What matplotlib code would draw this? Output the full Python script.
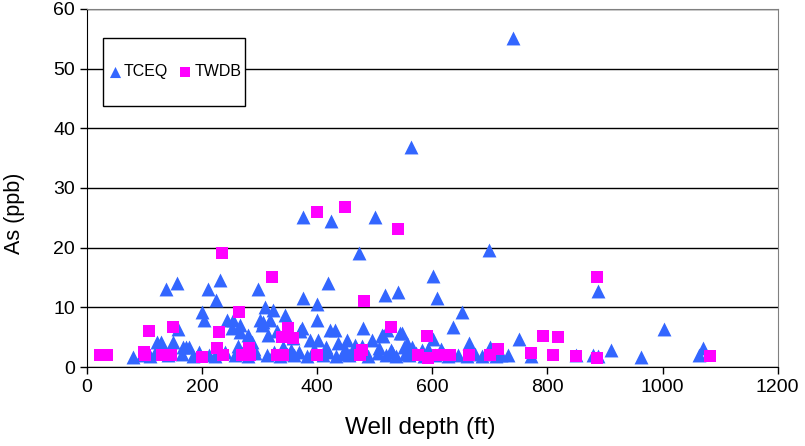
import matplotlib.pyplot as plt
from matplotlib.patches import Rectangle

# TCEQ wells: depth (ft) and arsenic (ppb)
tceq_depth = [741, 563, 375, 424, 501, 472, 699, 602, 419, 231, 156, 137, 210, 298,
              541, 517, 376, 609, 224, 400, 310, 323, 200, 652, 344, 888, 204, 400,
              301, 243, 318, 306, 254, 266, 304, 636, 158, 370, 374, 423, 431, 480,
              522, 1002, 252, 266, 330, 280, 315, 512, 515, 548, 544, 602, 750, 358,
              664, 122, 128, 150, 287, 388, 402, 452, 495, 437, 556, 466, 550, 701,
              167, 172, 177, 1071, 911, 593,
              963, 1063, 888, 880, 849, 772, 731, 695, 687, 80,
              95, 110, 118, 140, 165, 185, 195, 212, 222, 240, 258, 270, 280, 292,
              312, 325, 335, 348, 360, 368, 382, 392, 410, 418, 432, 445, 455, 462,
              488, 505, 520, 530, 537, 552, 560, 572, 585, 605, 618, 628, 645, 660,
              675, 710, 720,
              262, 290, 340, 355, 395, 415, 448, 478, 508, 528, 565, 582, 615]
tceq_as = [55.1, 36.9, 25.1, 24.5, 25.1, 19.1, 19.6, 15.2, 14.1, 14.6, 14.1, 13.1, 13.0, 13.1,
           12.6, 12.0, 11.6, 11.5, 11.3, 10.6, 10.1, 9.5, 9.2, 9.3, 8.7, 12.7, 7.9, 7.9,
           7.9, 7.9, 7.9, 7.5, 7.9, 7.0, 7.0, 6.7, 6.4, 6.0, 6.5, 6.2, 6.2, 6.5,
           6.2, 6.4, 6.5, 5.9, 6.0, 5.4, 5.4, 5.4, 5.2, 5.7, 5.7, 4.7, 4.7, 4.9,
           4.0, 4.2, 4.2, 4.2, 4.2, 4.5, 4.5, 4.5, 4.5, 4.0, 4.0, 3.7, 3.4, 3.4,
           3.3, 3.3, 3.3, 3.2, 2.8, 3.0,
           1.7, 2.0, 1.8, 2.0, 2.0, 1.8, 2.0, 2.2, 1.8, 1.7,
           2.0, 1.8, 2.4, 2.0, 2.2, 1.9, 2.5, 2.0, 1.8, 2.6, 2.0, 2.3, 1.9, 2.4,
           2.0, 2.6, 1.8, 2.2, 2.0, 2.5, 1.9, 2.3, 2.0, 2.6, 1.8, 2.2, 2.0, 2.4,
           1.9, 2.3, 2.0, 2.5, 1.8, 2.2, 2.0, 2.4, 1.9, 2.1, 2.3, 1.8, 2.0, 1.9,
           2.2, 1.8, 2.0,
           3.5, 3.0, 3.3, 2.9, 3.1, 3.4, 3.0, 3.6, 3.2, 2.9, 3.3, 2.8, 3.1]

# TWDB wells
twdb_depth = [23, 35, 99, 101, 108, 130, 146, 150, 200, 226, 230, 235, 237, 264, 270,
              282, 283, 322, 330, 339, 341, 350, 358, 400, 400, 449, 475, 478, 482,
              529, 541, 576, 591, 593, 610, 631, 663, 701, 715, 772, 793, 810, 819,
              850, 887, 887, 1082]
twdb_as = [2.0, 2.0, 2.6, 2.0, 6.0, 2.0, 2.0, 6.7, 1.7, 3.2, 5.9, 19.1, 2.0, 9.2, 2.0,
           3.2, 2.0, 15.1, 2.0, 5.0, 2.0, 6.5, 4.9, 26.0, 2.0, 26.8, 2.0, 2.8, 11.1,
           6.7, 23.1, 2.0, 5.2, 1.6, 2.0, 2.0, 2.0, 2.0, 3.1, 2.3, 5.2, 2.0, 5.0,
           1.9, 1.5, 15.1, 1.8]

plt.rcParams['font.family'] = ['Liberation Sans', 'DejaVu Sans']

fig, ax = plt.subplots(figsize=(8.05, 4.46), dpi=100)
fig.subplots_adjust(left=0.108, right=0.966, top=0.980, bottom=0.177)

ax.scatter(tceq_depth, tceq_as, marker='^', s=10**2, color='#3366FF',
           linewidths=0, label='TCEQ', zorder=3, clip_on=False)
ax.scatter(twdb_depth, twdb_as, marker='s', s=8.8**2, color='#FF00FF',
           linewidths=0, label='TWDB', zorder=4, clip_on=False)

ax.set_xlim(0, 1200)
ax.set_ylim(0, 60)
ax.set_xticks(range(0, 1201, 200))
ax.set_yticks(range(0, 61, 10))
ax.tick_params(direction='out', length=5, width=1, labelsize=14, color='black')
ax.yaxis.grid(True, color='black', linewidth=1)
ax.set_axisbelow(True)
for side in ['top', 'right']:
    ax.spines[side].set_color('#808080')
for side in ['left', 'bottom']:
    ax.spines[side].set_color('black')

ax.set_xlabel('Well depth (ft)', fontsize=17.5)
ax.set_ylabel('As (ppb)', fontsize=15.5)
ax.xaxis.set_label_coords(0.482, -0.14)
ax.yaxis.set_label_coords(-0.09, 0.43)

# legend box drawn as a plain rectangle, entries centred inside it
ax.add_patch(Rectangle((0.023, 0.729), 0.206, 0.19, transform=ax.transAxes,
                       facecolor='white', edgecolor='black', linewidth=1, zorder=5))
leg = ax.legend(loc='center', bbox_to_anchor=(0.126, 0.824), ncol=2, frameon=False,
                fontsize=11.5, handletextpad=0.05, columnspacing=0.6,
                markerscale=0.8, borderaxespad=0, handlelength=1.0)
leg.set_zorder(6)

plt.savefig('out.png')
